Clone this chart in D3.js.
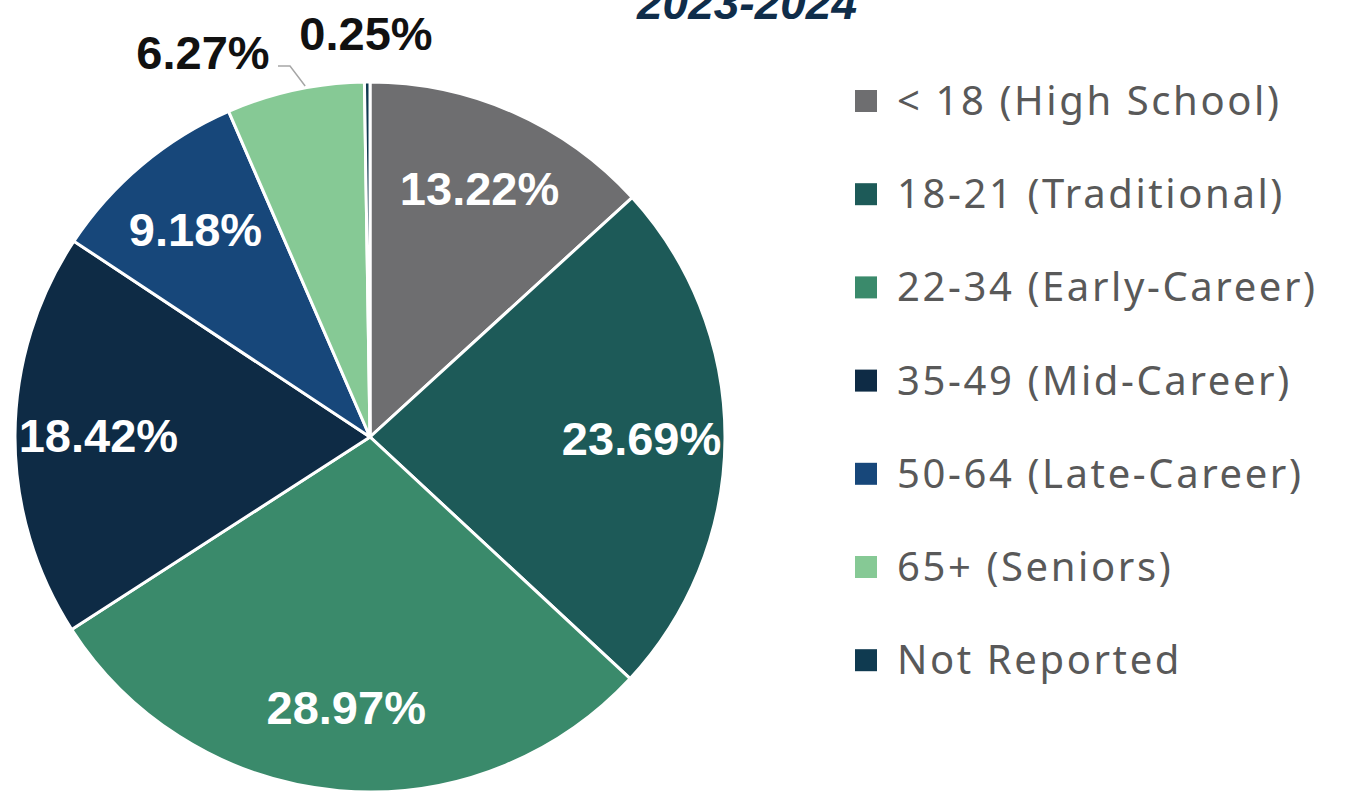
<!DOCTYPE html>
<html>
<head>
<meta charset="utf-8">
<script src="https://cdn.jsdelivr.net/npm/d3@7"></script>
<style>
  body { margin: 0; background: #fff; }
</style>
</head>
<body>
<div class="canvas"></div>
<script>
// data
const categories = ['< 18 (High School)', '18-21 (Traditional)', '22-34 (Early-Career)',
  '35-49 (Mid-Career)', '50-64 (Late-Career)', '65+ (Seniors)', 'Not Reported']
const shares = [13.22, 23.69, 28.97, 18.42, 9.18, 6.27, 0.25]
const colours = ['#6e6e70', '#1d5a58', '#3a8a6b', '#0e2b45', '#17477a', '#86c995', '#0f3a50']
const title = '2023-2024'

const data = categories.map((name, i) => ({ name, value: shares[i] }))

const svg = d3.select('.canvas')
  .append('svg')
  .attr('width', 1353)
  .attr('height', 793)

// title, partly cut off at the top like the source
svg.append('text')
  .attr('x', 747)
  .attr('y', 19)
  .attr('text-anchor', 'middle')
  .attr('fill', '#0f2d4a')
  .style('font', 'italic bold 46px "Liberation Sans", Arial, sans-serif')
  .text(title)

const radius = 355
const graph = svg.append('g')
  .attr('transform', 'translate(370, 437)')

const pie = d3.pie()
  .sort(null)
  .value(d => d.value)

const arc = d3.arc().innerRadius(0).outerRadius(radius)
const labelArc = d3.arc().innerRadius(radius * 0.765).outerRadius(radius * 0.765)

const colour = d3.scaleOrdinal(categories, colours)

const slices = pie(data)

graph.selectAll('path')
  .data(slices)
  .enter()
  .append('path')
  .attr('d', arc)
  .attr('fill', d => colour(d.data.name))
  .attr('stroke', 'white')
  .attr('stroke-width', 3)

// labels inside the big slices
graph.selectAll('text.inside')
  .data(slices.filter(d => d.data.value > 7))
  .enter()
  .append('text')
  .attr('class', 'inside')
  .attr('transform', d => {
    const [x, y] = labelArc.centroid(d)
    return `translate(${x}, ${y})`
  })
  .attr('text-anchor', 'middle')
  .attr('dy', '0.36em')
  .attr('fill', 'white')
  .style('font', 'bold 47px "Liberation Sans", Arial, sans-serif')
  .text(d => d.data.value.toFixed(2) + '%')

// outside labels for the two small slices
const outside = slices.filter(d => d.data.value <= 7)
const outPos = { '65+ (Seniors)': [-167, -385], 'Not Reported': [-4, -404] }

graph.selectAll('text.outside')
  .data(outside)
  .enter()
  .append('text')
  .attr('class', 'outside')
  .attr('x', d => outPos[d.data.name][0])
  .attr('y', d => outPos[d.data.name][1])
  .attr('text-anchor', 'middle')
  .attr('dy', '0.36em')
  .attr('fill', '#111')
  .style('font', 'bold 47px "Liberation Sans", Arial, sans-serif')
  .text(d => d.data.value.toFixed(2) + '%')

// leader line for 6.27%
const seniors = outside.find(d => d.data.name === '65+ (Seniors)')
const mid = (seniors.startAngle + seniors.endAngle) / 2 + 0.03
const tip = [Math.sin(mid) * (radius + 2), -Math.cos(mid) * (radius + 2)]
graph.append('path')
  .attr('d', d3.line()([[-92, -371], [-80, -371], [tip[0], tip[1]]]))
  .attr('fill', 'none')
  .attr('stroke', '#a6a6a6')
  .attr('stroke-width', 1.5)

// legend
const legend = svg.append('g')
  .attr('transform', 'translate(855, 101)')

const rows = legend.selectAll('g')
  .data(categories)
  .enter()
  .append('g')
  .attr('transform', (d, i) => `translate(0, ${i * 93.2})`)

rows.append('rect')
  .attr('x', 0)
  .attr('y', -11)
  .attr('width', 22)
  .attr('height', 22)
  .attr('fill', d => colour(d))

rows.append('text')
  .attr('x', 42)
  .attr('dy', '0.35em')
  .attr('fill', '#595959')
  .style('font', '40px "Noto Sans", sans-serif')
  .style('letter-spacing', '2.6px')
  .text(d => d)
</script>
</body>
</html>
